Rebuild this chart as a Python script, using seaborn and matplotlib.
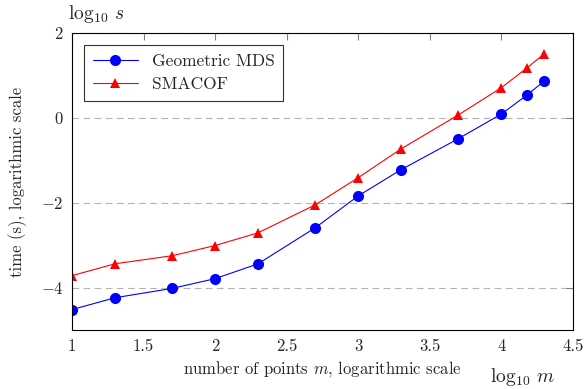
import numpy as np
import pandas as pd
import seaborn as sns
import matplotlib.pyplot as plt

# log10 of number of points
log_m = [1, 1.3, 1.7, 2, 2.3, 2.7, 3, 3.3, 3.7, 4, 4.18, 4.3]
# log10 of time (s)
mds_time = [-4.52, -4.24, -4.02, -3.79, -3.44, -2.59, -1.84, -1.22, -0.49, 0.09, 0.54, 0.87]
smacof_time = [-3.72, -3.44, -3.25, -3.01, -2.71, -2.05, -1.41, -0.73, 0.07, 0.71, 1.18, 1.51]

df = pd.DataFrame({"m": log_m, "mds": mds_time, "smacof": smacof_time})

sns.set_style("white")
plt.rcParams["font.family"] = ["cmr10", "DejaVu Serif"]
plt.rcParams["mathtext.fontset"] = "cm"
plt.rcParams["axes.formatter.use_mathtext"] = True

fig = plt.figure(figsize=(5.88, 3.89), dpi=100)
ax = fig.add_axes([0.1224, 0.1517, 0.852, 0.7635])

sns.lineplot(x="m", y="mds", data=df, ax=ax, color="blue", marker="o", markersize=8,
             markeredgewidth=0, linewidth=0.8, label="Geometric MDS")
sns.lineplot(x="m", y="smacof", data=df, ax=ax, color="red", marker="^", markersize=7,
             markeredgewidth=0, linewidth=0.8, label="SMACOF")

ax.set_xlim(1, 4.5)
ax.set_ylim(-5, 2)
ax.set_xticks([1, 1.5, 2, 2.5, 3, 3.5, 4, 4.5])
ax.set_xticklabels(["1", "1.5", "2", "2.5", "3", "3.5", "4", "4.5"])
ax.set_yticks([-4, -2, 0, 2])
ax.set_yticklabels(["$-4$", "$-2$", "$0$", "$2$"])
ax.tick_params(direction="in", length=5, color="gray", labelsize=12, top=True, right=True, pad=6)
ax.yaxis.grid(True, linestyle=(0, (6, 4)), color="0.7", linewidth=0.8)
for s in ax.spines.values():
    s.set_color("black")
    s.set_linewidth(0.8)

ax.set_xlabel("number of points $m$, logarithmic scale", fontsize=12, labelpad=4)
ax.set_ylabel("time (s), logarithmic scale", fontsize=12, labelpad=10)
fig.text(0.115, 0.965, r"$\log_{10}\,s$", fontsize=14, ha="left", va="center")
fig.text(0.833, 0.032, r"$\log_{10}\,m$", fontsize=14, ha="left", va="center")

ax.legend(loc="upper left", fontsize=12.5, frameon=True, fancybox=False, edgecolor="black",
          borderaxespad=0.7, handlelength=2.6, borderpad=0.5, labelspacing=0.45)
ax.get_legend().get_frame().set_linewidth(0.8)

plt.savefig("out.png", dpi=100)
